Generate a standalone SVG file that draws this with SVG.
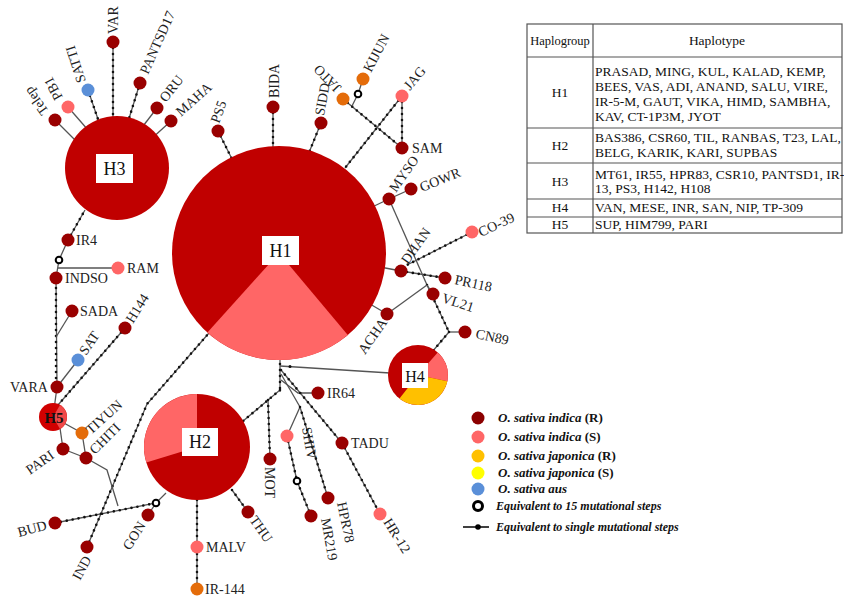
<svg xmlns="http://www.w3.org/2000/svg" width="844" height="607" viewBox="0 0 844 607">
<style>
.ln{fill:none;stroke:#555;stroke-width:1.3}
.dt{fill:none;stroke:#111;stroke-width:2.6;stroke-linecap:round;stroke-dasharray:0 6}
.d{fill:#990000}
.p{fill:#FF6666}
.o{fill:#E46C0A}
.b{fill:#5A8FD8}
.ring{fill:#fff;stroke:#000;stroke-width:2}
.big{fill:#C00000}
.lb{font-family:"Liberation Serif","Times New Roman",serif;font-size:14px;fill:#222}
.hb{fill:#fff}
.ht{font-family:"Liberation Serif","Times New Roman",serif;font-size:18px;fill:#111;text-anchor:middle}
.tt{font-family:"Liberation Serif","Times New Roman",serif;font-size:13.5px;fill:#111}
.tc{text-anchor:middle}
.lg{font-family:"Liberation Serif","Times New Roman",serif;font-size:13px;font-weight:bold;font-style:italic;fill:#111}
.tab{fill:none;stroke:#555;stroke-width:1.2}
</style>
<rect width="844" height="607" fill="#fff"/>
<g id="connectors">
<path class="ln" d="M55,120 L80,145"/>
<path class="ln" d="M68,107 L88,130"/>
<path class="ln" d="M88,90 L100,125"/><path class="dt" d="M88,90 L100,125"/>
<path class="ln" d="M113,42 L113,125"/><path class="dt" d="M113,42 L113,125"/>
<path class="ln" d="M140,83 L127,125"/><path class="dt" d="M140,83 L127,125"/>
<path class="ln" d="M157,108 L140,130"/>
<path class="ln" d="M171,121 L150,140"/>
<path class="ln" d="M218,131 L235,165"/><path class="dt" d="M218,131 L235,165"/>
<path class="ln" d="M273,107 L273,150"/><path class="dt" d="M273,107 L273,150"/>
<path class="ln" d="M321,123 L308,155"/><path class="dt" d="M321,123 L308,155"/>
<path class="ln" d="M343,99 L402,148"/><path class="dt" d="M343,99 L402,148"/>
<path class="ln" d="M363,79 L358,94 L352,106"/>
<path class="ln" d="M402,96 L345,168"/><path class="dt" d="M402,96 L345,168"/>
<path class="ln" d="M402,96 L402,148"/><path class="dt" d="M402,96 L402,148"/>
<path class="ln" d="M389,199 L370,208"/>
<path class="ln" d="M389,199 L411,189"/>
<path class="ln" d="M389,199 L427,285"/>
<path class="ln" d="M427,285 L449,332"/><path class="dt" d="M427,285 L449,332"/>
<path class="ln" d="M387,314 L427,285"/>
<path class="ln" d="M387,314 L370,304"/>
<path class="ln" d="M433,294 L427,285"/>
<path class="ln" d="M401,271 L380,267"/>
<path class="ln" d="M401,271 L445,278"/><path class="dt" d="M401,271 L445,278"/>
<path class="ln" d="M472,232 L407,265"/><path class="dt" d="M472,232 L407,265"/>
<path class="ln" d="M449,332 L465,332"/>
<path class="ln" d="M449,332 L432,352"/><path class="dt" d="M449,332 L432,352"/>
<path class="ln" d="M390,373 L280,366"/><circle cx="290" cy="366.6" r="1.5" fill="#111"/>
<path class="ln" d="M280,355 L280,392"/><path class="dt" d="M280,358 L280,392"/>
<path class="ln" d="M280,390 L236,427"/><path class="dt" d="M280,390 L236,427"/>
<path class="ln" d="M268,400 L270,459"/><path class="dt" d="M268,400 L270,459"/>
<path class="ln" d="M281,380 L298,393 L318,393"/>
<path class="ln" d="M281,374 L300,407 L287,436"/>
<path class="ln" d="M300,407 L328,498"/><path class="dt" d="M300,407 L328,498"/>
<path class="ln" d="M281,370 L342,443"/><path class="dt" d="M281,370 L342,443"/>
<path class="ln" d="M287,436 L297,481 L311,516"/><path class="dt" d="M287,436 L297,481 L311,516"/>
<path class="ln" d="M342,443 L380,514"/><path class="dt" d="M342,443 L380,514"/>
<path class="ln" d="M232,490 L248,512"/><path class="dt" d="M232,490 L248,512"/>
<path class="ln" d="M197,500 L197,589"/><path class="dt" d="M197,500 L197,589"/>
<path class="ln" d="M55,523 L156,503 L166,493"/><path class="dt" d="M55,523 L156,503"/>
<path class="ln" d="M148,515 L156,503"/>
<path class="ln" d="M87,547 L147,404 L209,333"/><path class="dt" d="M87,547 L147,404 L209,333"/>
<path class="ln" d="M86,458 L107,470 L118,506"/>
<path class="ln" d="M63,449 L86,458"/>
<path class="ln" d="M82,433 L86,458"/>
<path class="ln" d="M53,417 L82,433"/>
<path class="ln" d="M60,428 L63,449"/>
<path class="ln" d="M53,417 L57,387"/>
<path class="ln" d="M58,405 L125,328"/><path class="dt" d="M58,405 L125,328"/>
<path class="ln" d="M57,387 L78,360"/>
<path class="ln" d="M57,387 L56,278"/><path class="dt" d="M56,384 L56,280"/>
<path class="ln" d="M72,311 L56,337"/>
<path class="ln" d="M56,278 L59,260 L68,240"/>
<path class="ln" d="M58,268 L118,268"/>
<path class="ln" d="M68,240 L85,210"/><path class="dt" d="M68,240 L85,210"/>
<circle class="ring" cx="358" cy="94" r="3.3"/>
<circle class="ring" cx="59" cy="260" r="3.3"/>
<circle class="ring" cx="156" cy="503" r="3.3"/>
<circle class="ring" cx="297" cy="481" r="3.3"/>
</g>
<g id="H1">
<circle class="big" cx="279" cy="253" r="107"/>
<path class="p" d="M279,253 L347.8,335 A107,107 0 0,1 207.4,332.5 Z"/>
<rect class="hb" x="262" y="236" width="37" height="29"/>
<text class="ht" x="280.5" y="257">H1</text>
</g>
<g id="H2">
<circle class="big" cx="197" cy="447" r="53"/>
<path class="p" d="M197,447 L146.3,462.5 A53,53 0 0,1 197,394 Z"/>
<rect class="hb" x="182" y="428" width="36" height="28"/>
<text class="ht" x="200" y="448">H2</text>
</g>
<g id="H3">
<circle class="big" cx="117" cy="168" r="52"/>
<rect class="hb" x="96" y="154" width="37" height="29"/>
<text class="ht" x="114.5" y="175">H3</text>
</g>
<g id="H4">
<circle class="big" cx="418" cy="375" r="30"/>
<path class="p" d="M418,375 L437.7,352.4 A30,30 0 0,1 447.3,381.2 Z"/>
<path fill="#FFC000" d="M418,375 L447.3,381.2 A30,30 0 0,1 399.5,398.6 Z"/>
<rect class="hb" x="402" y="363" width="26" height="25"/>
<text class="ht" x="415" y="382" style="font-size:16px">H4</text>
</g>
<g id="H5">
<circle cx="53" cy="417" r="14" fill="#D00000"/>
<path fill="#F04848" d="M53,417 L60,404.9 A14,14 0 0,1 60,429.1 Z"/>
<text class="ht" x="54" y="423" style="font-size:15px;font-weight:bold">H5</text>
</g>
<g id="Telep"><circle class="d" cx="55" cy="120" r="6.5"/><text class="lb" transform="translate(49,111) rotate(-125)">Telep</text></g>
<g id="PB1"><circle class="p" cx="68" cy="107" r="6.5"/><text class="lb" transform="translate(63,97) rotate(-118)">PB1</text></g>
<g id="SATTI"><circle class="b" cx="88" cy="90" r="6.5"/><text class="lb" transform="translate(86,81) rotate(-108)">SATTI</text></g>
<g id="VAR"><circle class="d" cx="113" cy="42" r="6.5"/><text class="lb" transform="translate(118,34) rotate(-90)">VAR</text></g>
<g id="PANTSD17"><circle class="d" cx="140" cy="83" r="6.5"/><text class="lb" transform="translate(148,75) rotate(-66)">PANTSD17</text></g>
<g id="ORU"><circle class="d" cx="157" cy="108" r="6.5"/><text class="lb" transform="translate(166,103) rotate(-52)">ORU</text></g>
<g id="MAHA"><circle class="d" cx="171" cy="121" r="6.5"/><text class="lb" transform="translate(181,117) rotate(-42)">MAHA</text></g>
<g id="PS5"><circle class="d" cx="218" cy="131" r="6.5"/><text class="lb" transform="translate(219,124) rotate(-70)">PS5</text></g>
<g id="BIDA"><circle class="d" cx="273" cy="107" r="6.5"/><text class="lb" transform="translate(279,98) rotate(-90)">BIDA</text></g>
<g id="SIDD"><circle class="d" cx="321" cy="123" r="6.5"/><text class="lb" transform="translate(324,116) rotate(-80)">SIDD</text></g>
<g id="JATO"><circle class="o" cx="343" cy="99" r="6.5"/><text class="lb" transform="translate(342,87) rotate(-134)">JATO</text></g>
<g id="KIJUN"><circle class="o" cx="363" cy="79" r="6.5"/><text class="lb" transform="translate(371,73) rotate(-62)">KIJUN</text></g>
<g id="JAG"><circle class="p" cx="402" cy="96" r="6.5"/><text class="lb" transform="translate(410,91) rotate(-50)">JAG</text></g>
<g id="SAM"><circle class="d" cx="402" cy="148" r="6.5"/><text class="lb" x="412" y="153">SAM</text></g>
<g id="MYSO"><circle class="d" cx="389" cy="199" r="6.5"/><text class="lb" transform="translate(396,193) rotate(-55)">MYSO</text></g>
<g id="GOWR"><circle class="d" cx="411" cy="189" r="6.5"/><text class="lb" transform="translate(422,192) rotate(-22)">GOWR</text></g>
<g id="CO-39"><circle class="p" cx="472" cy="232" r="6.5"/><text class="lb" transform="translate(481,237) rotate(-25)">CO-39</text></g>
<g id="DHAN"><circle class="d" cx="401" cy="271" r="6.5"/><text class="lb" transform="translate(408,265) rotate(-55)">DHAN</text></g>
<g id="PR118"><circle class="d" cx="445" cy="278" r="6.5"/><text class="lb" transform="translate(454,284) rotate(12)">PR118</text></g>
<g id="VL21"><circle class="d" cx="433" cy="294" r="6.5"/><text class="lb" transform="translate(441,302) rotate(18)">VL21</text></g>
<g id="CN89"><circle class="d" cx="465" cy="332" r="6.5"/><text class="lb" transform="translate(475,338) rotate(12)">CN89</text></g>
<g id="ACHA"><circle class="d" cx="387" cy="314" r="6.5"/><text class="lb" transform="translate(365,355) rotate(-55)">ACHA</text></g>
<g id="IR64"><circle class="d" cx="318" cy="393" r="6.5"/><text class="lb" x="327" y="398">IR64</text></g>
<g id="TADU"><circle class="d" cx="342" cy="443" r="6.5"/><text class="lb" x="351" y="448">TADU</text></g>
<g id="MOT"><circle class="d" cx="270" cy="459" r="6.5"/><text class="lb" transform="translate(265,467) rotate(90)">MOT</text></g>
<g id="SHIV"><circle class="p" cx="287" cy="436" r="6.5"/><text class="lb" transform="translate(302,428) rotate(80)">SHIV</text></g>
<g id="MR219"><circle class="d" cx="311" cy="516" r="6.5"/><text class="lb" transform="translate(321,519) rotate(80)">MR219</text></g>
<g id="HPR78"><circle class="d" cx="328" cy="498" r="6.5"/><text class="lb" transform="translate(337,503) rotate(78)">HPR78</text></g>
<g id="HR-12"><circle class="p" cx="380" cy="514" r="6.5"/><text class="lb" transform="translate(383,522) rotate(58)">HR-12</text></g>
<g id="THU"><circle class="d" cx="248" cy="512" r="6.5"/><text class="lb" transform="translate(249,520) rotate(55)">THU</text></g>
<g id="MALV"><circle class="p" cx="197" cy="547" r="6.5"/><text class="lb" x="206" y="552">MALV</text></g>
<g id="IR-144"><circle class="o" cx="197" cy="589" r="6.5"/><text class="lb" x="205" y="594">IR-144</text></g>
<g id="GON"><circle class="d" cx="148" cy="515" r="6.5"/><text class="lb" transform="translate(130,551) rotate(-58)">GON</text></g>
<g id="IND"><circle class="d" cx="87" cy="547" r="6.5"/><text class="lb" transform="translate(80,581) rotate(-62)">IND</text></g>
<g id="BUD"><circle class="d" cx="55" cy="523" r="6.5"/><text class="lb" transform="translate(19,537) rotate(-15)">BUD</text></g>
<g id="PARI"><circle class="d" cx="63" cy="449" r="6.5"/><text class="lb" transform="translate(30,475) rotate(-35)">PARI</text></g>
<g id="CHITI"><circle class="d" cx="86" cy="458" r="6.5"/><text class="lb" transform="translate(95,455) rotate(-45)">CHITI</text></g>
<g id="TIYUN"><circle class="o" cx="82" cy="433" r="6.5"/><text class="lb" transform="translate(91,435) rotate(-42)">TIYUN</text></g>
<g id="VARA"><circle class="d" cx="57" cy="387" r="6.5"/><text class="lb" x="10" y="392">VARA</text></g>
<g id="SAT"><circle class="b" cx="78" cy="360" r="6.5"/><text class="lb" transform="translate(86,356) rotate(-55)">SAT</text></g>
<g id="H144"><circle class="d" cx="125" cy="328" r="6.5"/><text class="lb" transform="translate(133,324) rotate(-58)">H144</text></g>
<g id="SADA"><circle class="d" cx="72" cy="311" r="6.5"/><text class="lb" x="80" y="316">SADA</text></g>
<g id="INDSO"><circle class="d" cx="56" cy="278" r="6.5"/><text class="lb" x="65" y="283">INDSO</text></g>
<g id="RAM"><circle class="p" cx="118" cy="268" r="6.5"/><text class="lb" x="127" y="273">RAM</text></g>
<g id="IR4"><circle class="d" cx="68" cy="240" r="6.5"/><text class="lb" x="76" y="245">IR4</text></g>
<g id="legend">
<circle cx="478" cy="418" r="6.5" fill="#8B0000"/>
<circle cx="478" cy="437" r="6.5" fill="#FF6666"/>
<circle cx="478" cy="456" r="6.5" fill="#FFC000"/>
<circle cx="478" cy="473" r="6.5" fill="#FFFF00"/>
<circle cx="478" cy="489" r="6.5" fill="#5A8FD8"/>
<circle cx="478" cy="506" r="4.5" fill="#fff" stroke="#000" stroke-width="3"/>
<path d="M463,527 L489,527" stroke="#000" stroke-width="1.5"/>
<circle cx="478" cy="527" r="2.8" fill="#000"/>
<text class="lg" x="498" y="422">O. sativa indica <tspan style="font-style:normal">(R)</tspan></text>
<text class="lg" x="498" y="441">O. sativa indica <tspan style="font-style:normal">(S)</tspan></text>
<text class="lg" x="498" y="460">O. sativa japonica <tspan style="font-style:normal">(R)</tspan></text>
<text class="lg" x="498" y="477">O. sativa japonica <tspan style="font-style:normal">(S)</tspan></text>
<text class="lg" x="498" y="493">O. sativa aus</text>
<text class="lg" x="496" y="510" style="font-size:12px">Equivalent to 15 mutational steps</text>
<text class="lg" x="496" y="531" style="font-size:12px">Equivalent to single mutational steps</text>
</g>
<g id="table">
<rect class="tab" x="527" y="24" width="315" height="209"/>
<path class="tab" d="M593,24 V233 M527,57 H842 M527,128 H842 M527,163 H842 M527,199 H842 M527,217 H842"/>
<text class="tt tc" x="560" y="45" style="font-size:12.5px">Haplogroup</text>
<text class="tt tc" x="717" y="45">Haplotype</text>
<text class="tt tc" x="560" y="97">H1</text>
<text class="tt tc" x="560" y="150">H2</text>
<text class="tt tc" x="560" y="186">H3</text>
<text class="tt tc" x="560" y="212">H4</text>
<text class="tt tc" x="560" y="229">H5</text>
<text class="tt" x="595" y="76">PRASAD, MING, KUL, KALAD, KEMP,</text>
<text class="tt" x="595" y="91">BEES, VAS, ADI, ANAND, SALU, VIRE,</text>
<text class="tt" x="595" y="106">IR-5-M, GAUT, VIKA, HIMD, SAMBHA,</text>
<text class="tt" x="595" y="121">KAV, CT-1P3M, JYOT</text>
<text class="tt" x="595" y="142">BAS386, CSR60, TIL, RANBAS, T23, LAL,</text>
<text class="tt" x="595" y="157">BELG, KARIK, KARI, SUPBAS</text>
<text class="tt" x="595" y="179">MT61, IR55, HPR83, CSR10, PANTSD1, IR-</text>
<text class="tt" x="595" y="193">13, PS3, H142, H108</text>
<text class="tt" x="595" y="212">VAN, MESE, INR, SAN, NIP, TP-309</text>
<text class="tt" x="595" y="229">SUP, HIM799, PARI</text>
</g>
</svg>
